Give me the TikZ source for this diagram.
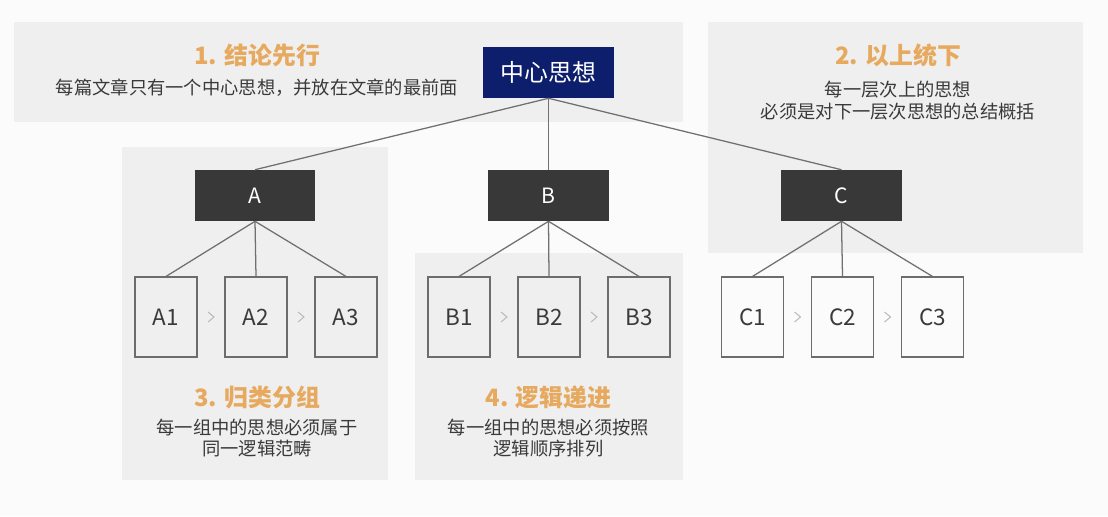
\documentclass[tikz,border=0pt]{standalone}
\usepackage{fontspec}
\setmainfont{Noto Sans CJK SC}
\usetikzlibrary{calc}
\definecolor{pagewhite}{HTML}{FBFBFC}
\definecolor{panelgray}{HTML}{EFEFF0}
\definecolor{ideanavy}{HTML}{0C1E6C}
\definecolor{groupgray}{HTML}{383838}
\definecolor{leafline}{HTML}{6C6C6C}
\definecolor{linkgray}{HTML}{707070}
\definecolor{chevgray}{HTML}{B8B8B8}
\definecolor{titleorange}{HTML}{E6A95E}
\definecolor{notegray}{HTML}{3A3A3A}

\begin{document}
\begin{tikzpicture}[x=0.025cm, y=-0.025cm,
    idea/.style={fill=ideanavy, text=white, minimum width=3.275cm, minimum height=1.275cm,
                 inner sep=0pt, font=\fontsize{17}{20}\selectfont},
    group/.style={fill=groupgray, text=white, minimum width=3cm, minimum height=1.275cm,
                  inner sep=0pt, font=\fontsize{15}{18}\selectfont},
    leaf/.style={draw=leafline, line width=0.8pt, minimum width=1.55cm, minimum height=2cm,
                 inner sep=0pt, text=notegray, font=\fontsize{16}{19}\selectfont},
    link/.style={draw=linkgray, line width=0.9pt},
    chev/.style={draw=chevgray, line width=0.7pt},
    title/.style={text=titleorange, font=\bfseries\fontsize{17}{20}\selectfont},
    note/.style={text=notegray, align=center, font=\fontsize{13}{15.6}\selectfont}]

    \useasboundingbox[fill=pagewhite] (0,0) rectangle (1108,516);

    \fill[panelgray] (14,22) rectangle (683,122);
    \fill[panelgray] (708,22) rectangle (1083,253);
    \fill[panelgray] (122,147) rectangle (388,480);
    \fill[panelgray] (415,253) rectangle (683,480);

    \node[idea] (idea) at (548.5,72.5) {中心思想};

    \node[group] (A) at (255,195.5) {A};
    \node[group] (B) at (548.5,195.5) {B};
    \node[group] (C) at (841.5,195.5) {C};

    \foreach \g/\x in {A/166, B/459, C/752.5} {
        \node[leaf] (\g1) at (\x,317) {\g1};
        \node[leaf] (\g2) at (\x+90,317) {\g2};
        \node[leaf] (\g3) at (\x+180,317) {\g3};
    }

    \foreach \g in {A, B, C} {
        \draw[link] (idea.south) -- (\g.north);
        \foreach \i in {1,2,3}
            \draw[link] (\g.south) -- (\g\i.north);
        \draw[chev] ($(\g1.east)!0.5!(\g2.west)$) +(-3,-5) -- +(3,0) -- +(-3,5);
        \draw[chev] ($(\g2.east)!0.5!(\g3.west)$) +(-3,-5) -- +(3,0) -- +(-3,5);
    }

    \node[title] (t1) at (257,55) {1. 结论先行};
    \node[note] (n1) at (257,88) {每篇文章只有一个中心思想，并放在文章的最前面};

    \node[title] (t2) at (898,55) {2. 以上统下};
    \node[note] (n2) at (898,101) {每一层次上的思想\\必须是对下一层次思想的总结概括};

    \node[title] (t3) at (257,397) {3. 归类分组};
    \node[note] (n3) at (257,438) {每一组中的思想必须属于\\同一逻辑范畴};

    \node[title] (t4) at (548.5,397) {4. 逻辑递进};
    \node[note] (n4) at (548.5,438) {每一组中的思想必须按照\\逻辑顺序排列};
\end{tikzpicture}
\end{document}
